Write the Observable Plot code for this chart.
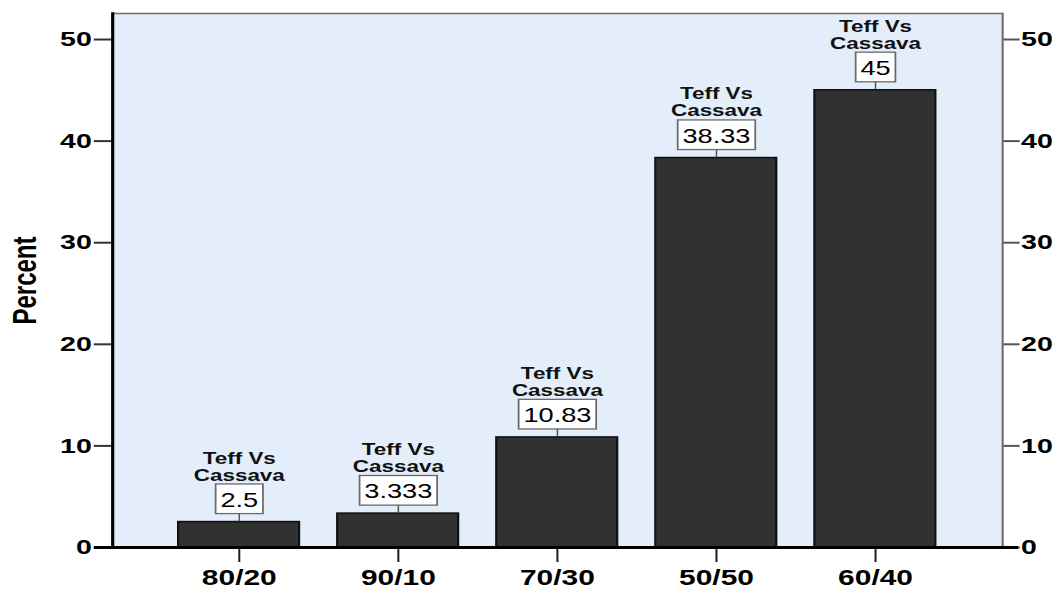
<!DOCTYPE html>
<html>
<head>
<meta charset="utf-8">
<script src="https://cdn.jsdelivr.net/npm/d3@7"></script>
<script src="https://cdn.jsdelivr.net/npm/@observablehq/plot@0.6"></script>
<style>
  body { margin: 0; background: #ffffff; }
  #chart svg { display: block; }
</style>
</head>
<body>
<div id="chart"></div>
<script>
// Blend ratios (teff / cassava) and the share of respondents for each
const categories = ["80/20", "90/10", "70/30", "50/50", "60/40"];
const percents = [2.5, 3.333, 10.83, 38.33, 45];
const seriesName = "Teff Vs\nCassava";
const yTicks = [0, 10, 20, 30, 40, 50];
const yLabel = "Percent";

const data = categories.map((ratio, i) => ({
  ratio,
  percent: percents[i],
  label: String(percents[i])
}));

// The chart is laid out in a narrower coordinate space and stretched
// horizontally to the page width, giving the wide lettering of the original export.
const WIDTH = 1055, HEIGHT = 590, PLOT_W = 776;

const chart = Plot.plot({
  width: PLOT_W,
  height: HEIGHT,
  marginLeft: 82.4,
  marginRight: 39,
  marginTop: 13,
  marginBottom: 43,
  style: { fontFamily: "'Liberation Sans', Arial, sans-serif", background: "#ffffff", color: "#000000" },
  x: { domain: categories, paddingInner: 0.2375, paddingOuter: 0.4, label: null },
  y: { domain: [0, 52.56], label: null },
  marks: [
    Plot.frame({ fill: "#e3eefa", stroke: "#707070", strokeWidth: 1.6 }),
    Plot.barY(data, { x: "ratio", y: "percent", fill: "#313131", stroke: "#111111", strokeWidth: 1.6 }),
    Plot.axisY(yTicks, {
      anchor: "left", tickSize: 13.4, tickPadding: 2, fontSize: 21, fontWeight: "bold",
      stroke: "#333333", strokeWidth: 2, fill: "#000000", label: null
    }),
    Plot.axisY(yTicks, {
      anchor: "right", tickSize: 12, tickPadding: 1.5, fontSize: 21, fontWeight: "bold",
      stroke: "#555555", strokeWidth: 2, fill: "#000000", label: null
    }),
    Plot.axisX({
      tickSize: 15, tickPadding: 7, fontSize: 22, fontWeight: "bold",
      stroke: "#222222", strokeWidth: 1.5, fill: "#000000", label: null
    }),
    Plot.frame({ anchor: "left", stroke: "#000000", strokeWidth: 2.3 }),
    Plot.ruleY([0], { stroke: "#000000", strokeWidth: 3, insetLeft: -13.4, insetRight: -12 }),
    Plot.text([yLabel], {
      frameAnchor: "left", textAnchor: "middle", rotate: -90, dx: -64,
      fontSize: 24, fontWeight: "bold", fill: "#000000"
    }),
    Plot.text(data, {
      x: "ratio", y: "percent", text: () => seriesName, lineAnchor: "bottom",
      dy: -41.6, fontSize: 16.5, fontWeight: "bold", lineHeight: 1.03, fill: "#111111"
    }),
    Plot.text(data, {
      x: "ratio", y: "percent", text: "label", lineAnchor: "middle",
      dy: -21.6, fontSize: 20, fill: "#000000"
    })
  ]
});

chart.setAttribute("width", WIDTH);
chart.setAttribute("height", HEIGHT);
chart.setAttribute("preserveAspectRatio", "none");
chart.style.maxWidth = "none";
chart.style.width = WIDTH + "px";
chart.style.height = HEIGHT + "px";
document.getElementById("chart").appendChild(chart);

// Boxed value labels with a short leader down to the bar top
const labelSet = new Set(data.map(d => d.label));
const SVGNS = "http://www.w3.org/2000/svg";
Array.from(chart.querySelectorAll("text"))
  .filter(t => labelSet.has(t.textContent.trim()))
  .forEach(t => {
    const bb = t.getBBox();
    const tf = t.getAttribute("transform");
    const parent = t.parentNode;
    const rect = document.createElementNS(SVGNS, "rect");
    rect.setAttribute("x", bb.x - 3.5);
    rect.setAttribute("y", bb.y - 4.5);
    rect.setAttribute("width", bb.width + 7);
    rect.setAttribute("height", bb.height + 7);
    rect.setAttribute("fill", "#ffffff");
    rect.setAttribute("stroke", "#6a6a6a");
    rect.setAttribute("stroke-width", 1.3);
    if (tf) rect.setAttribute("transform", tf);
    parent.insertBefore(rect, t);
    const cx = bb.x + bb.width / 2;
    const y0 = bb.y + bb.height + 2.5;
    const line = document.createElementNS(SVGNS, "line");
    line.setAttribute("x1", cx);
    line.setAttribute("x2", cx);
    line.setAttribute("y1", y0);
    line.setAttribute("y2", y0 + 7.6);
    line.setAttribute("stroke", "#555555");
    line.setAttribute("stroke-width", 1.1);
    if (tf) line.setAttribute("transform", tf);
    parent.insertBefore(line, t);
  });
</script>
</body>
</html>
